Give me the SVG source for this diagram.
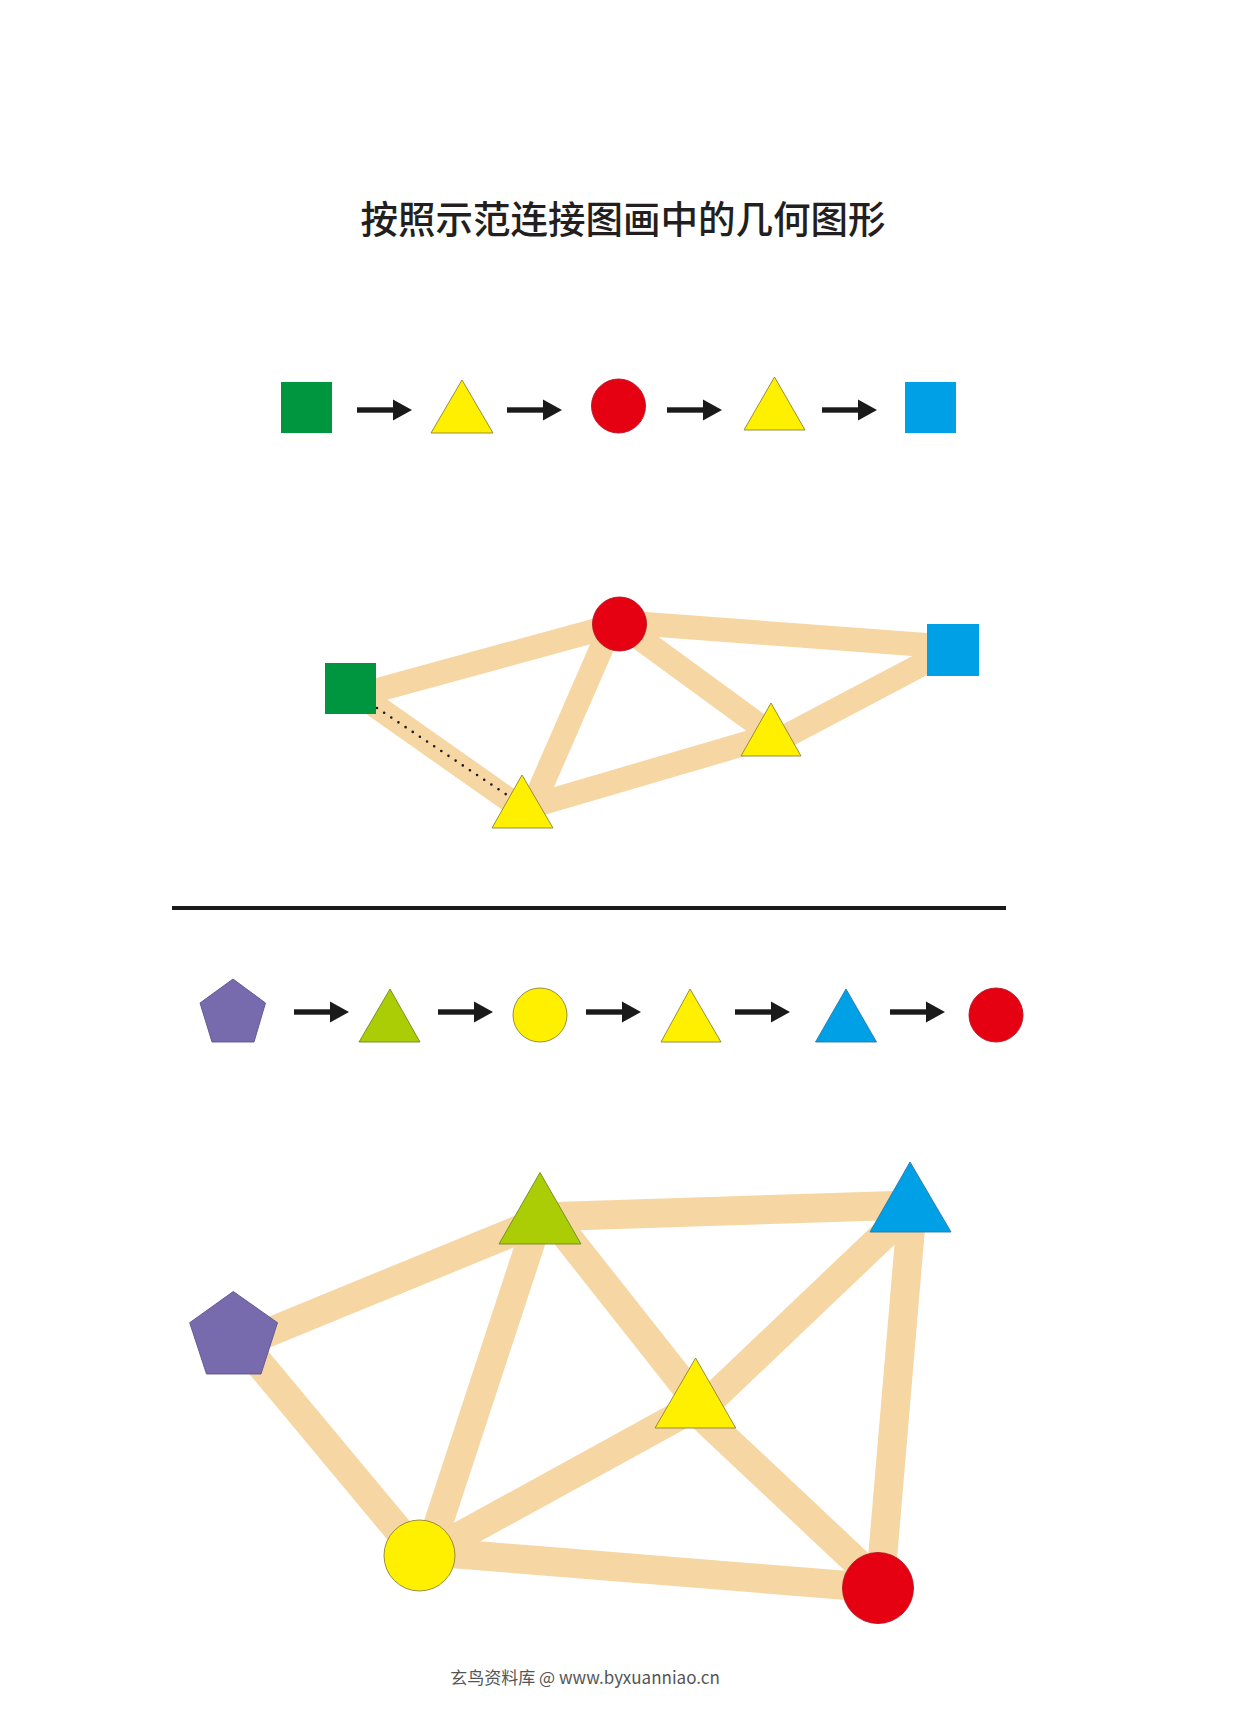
<svg xmlns="http://www.w3.org/2000/svg" xmlns:xlink="http://www.w3.org/1999/xlink" width="1239" height="1709" viewBox="0 0 1239 1709">
<style>
.bar{stroke:#F6D6A2;stroke-linecap:butt;fill:none}
.bar1{stroke-width:24}
.bar2{stroke-width:29}
.dots{stroke:#1a1a1a;stroke-width:2.6;stroke-linecap:round;stroke-dasharray:0 8.6;fill:none}
.sq-green{fill:#00963F}
.sq-blue{fill:#00A0E6}
.tri-yellow{fill:#FFF000;stroke:#8C8234;stroke-width:0.9}
.tri-lime{fill:#ABCD05;stroke:#6E8A1E;stroke-width:0.9}
.tri-blue{fill:#00A0E6;stroke:#2A78A8;stroke-width:0.9}
.c-red{fill:#E50012;stroke:#B81420;stroke-width:0.9}
.c-yellow{fill:#FFF000;stroke:#8C8234;stroke-width:0.9}
.pent{fill:#776AAD;stroke:#5E5490;stroke-width:0.9}
.arrow{fill:#1a1a1a}
.title{font-family:"Noto Sans CJK SC","Noto Sans CJK TC",sans-serif;font-size:37.5px;font-weight:500;fill:#231F20}
.foot{font-family:"Noto Sans CJK SC","Noto Sans",sans-serif;font-size:17px;fill:#555555}
</style>
<defs>
<g id="arr" class="arrow">
<rect x="0" y="-2.7" width="37" height="5.4"/>
<polygon points="36,-10.5 55,0 36,10.5"/>
</g>
</defs>
<rect width="1239" height="1709" fill="#FFFFFF"/>

<text class="title" x="623" y="233" text-anchor="middle">按照示范连接图画中的几何图形</text>

<!-- Example sequence 1 -->
<g id="seq1-arrows">
<use xlink:href="#arr" x="357" y="410"/>
<use xlink:href="#arr" x="507" y="410"/>
<use xlink:href="#arr" x="667" y="410"/>
<use xlink:href="#arr" x="822" y="410"/>
</g>
<g id="s1-green-square"><rect class="sq-green" x="281" y="382" width="51" height="51"/></g>
<g id="s1-yellow-tri-1"><polygon class="tri-yellow" points="462,380 493,433 431,433"/></g>
<g id="s1-red-circle"><circle class="c-red" cx="618.5" cy="406" r="27"/></g>
<g id="s1-yellow-tri-2"><polygon class="tri-yellow" points="774.5,377 805,430 744,430"/></g>
<g id="s1-blue-square"><rect class="sq-blue" x="905" y="382" width="51" height="51"/></g>

<!-- Example picture 1 -->
<g id="connectors-1">
<line class="bar bar1" x1="352" y1="697" x2="619" y2="624"/>
<line class="bar bar1" x1="619" y1="622" x2="953" y2="647"/>
<line class="bar bar1" x1="612" y1="624" x2="530" y2="812"/>
<line class="bar bar1" x1="619" y1="623" x2="771" y2="734"/>
<line class="bar bar1" x1="771" y1="744" x2="953" y2="648"/>
<line class="bar bar1" x1="522" y1="809" x2="771" y2="736"/>
<line class="bar bar1" x1="350" y1="688" x2="522" y2="809"/>
<line class="dots" x1="377" y1="708" x2="510" y2="797"/>
</g>
<g id="p1-green-square"><rect class="sq-green" x="325" y="663" width="51" height="51"/></g>
<g id="p1-red-circle"><circle class="c-red" cx="619.5" cy="624" r="27"/></g>
<g id="p1-blue-square"><rect class="sq-blue" x="927" y="624" width="52" height="52"/></g>
<g id="p1-yellow-tri-right"><polygon class="tri-yellow" points="771,703 801,756 741,756"/></g>
<g id="p1-yellow-tri-bottom"><polygon class="tri-yellow" points="522,775 553,828 492,828"/></g>

<!-- Divider -->
<rect x="172" y="906" width="834" height="4" fill="#1a1a1a"/>

<!-- Sequence 2 -->
<g id="seq2-arrows">
<use xlink:href="#arr" x="294" y="1012"/>
<use xlink:href="#arr" x="438" y="1012"/>
<use xlink:href="#arr" x="586" y="1012"/>
<use xlink:href="#arr" x="735" y="1012"/>
<use xlink:href="#arr" x="890" y="1012"/>
</g>
<g id="s2-pentagon"><polygon class="pent" points="233,979 265.5,1003 254,1042 212,1042 200,1003"/></g>
<g id="s2-lime-tri"><polygon class="tri-lime" points="390,989 420,1042 359,1042"/></g>
<g id="s2-yellow-circle"><circle class="c-yellow" cx="540" cy="1015" r="27"/></g>
<g id="s2-yellow-tri"><polygon class="tri-yellow" points="690,989 721,1042 661,1042"/></g>
<g id="s2-blue-tri"><polygon class="tri-blue" points="846,989 876.5,1042 815.5,1042"/></g>
<g id="s2-red-circle"><circle class="c-red" cx="996" cy="1015" r="27"/></g>

<!-- Picture 2 -->
<g id="connectors-2">
<line class="bar bar2" x1="233" y1="1347" x2="540" y2="1221"/>
<line class="bar bar2" x1="540" y1="1217" x2="910" y2="1205"/>
<line class="bar bar2" x1="240" y1="1340" x2="419" y2="1555"/>
<line class="bar bar2" x1="538" y1="1220" x2="428" y2="1555"/>
<line class="bar bar2" x1="550" y1="1215" x2="700" y2="1405"/>
<line class="bar bar2" x1="910" y1="1210" x2="700" y2="1410"/>
<line class="bar bar2" x1="695" y1="1407" x2="420" y2="1558"/>
<line class="bar bar2" x1="695" y1="1410" x2="878" y2="1582"/>
<line class="bar bar2" x1="419.5" y1="1551" x2="878" y2="1588"/>
<line class="bar bar2" x1="912" y1="1210" x2="880" y2="1588"/>
</g>
<g id="p2-pentagon"><polygon class="pent" points="233.3,1291.5 277.5,1322.7 261,1374 206.5,1374 189.7,1322.7"/></g>
<g id="p2-lime-tri"><polygon class="tri-lime" points="540,1172.5 581,1244 499,1244"/></g>
<g id="p2-blue-tri"><polygon class="tri-blue" points="910,1162 951,1232 870,1232"/></g>
<g id="p2-yellow-tri"><polygon class="tri-yellow" points="695.6,1358 735.7,1428 655,1428"/></g>
<g id="p2-yellow-circle"><circle class="c-yellow" cx="419.5" cy="1555.5" r="35.5"/></g>
<g id="p2-red-circle"><circle class="c-red" cx="878" cy="1588" r="35.5"/></g>

<text class="foot" x="585" y="1684" text-anchor="middle">玄鸟资料库 @ www.byxuanniao.cn</text>
</svg>
